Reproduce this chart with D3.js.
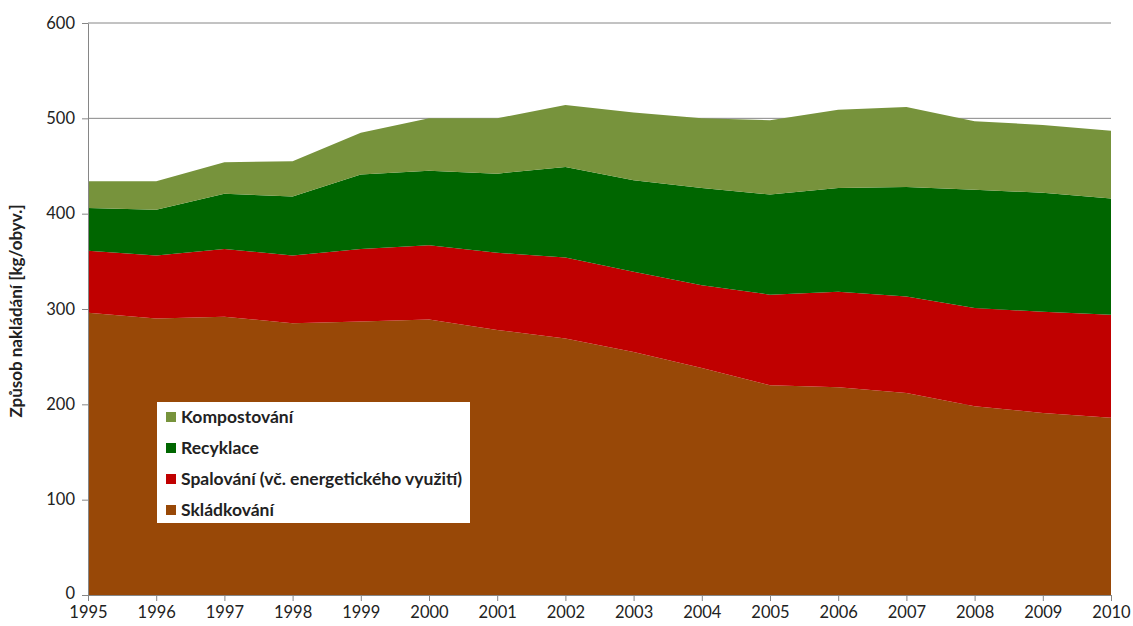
<!DOCTYPE html>
<html>
<head>
<meta charset="utf-8">
<script src="https://cdn.jsdelivr.net/npm/d3@7"></script>
<style>
  body { margin: 0; background: #fff; }
  text { font-family: Lato, "Open Sans", sans-serif; fill: #222; }
  .axis path, .axis line { stroke: #868686; }
  .grid line { stroke: #868686; }
</style>
</head>
<body>
<div id="chart"></div>
<script>
// data (kg per inhabitant)
const years = [1995, 1996, 1997, 1998, 1999, 2000, 2001, 2002, 2003, 2004, 2005, 2006, 2007, 2008, 2009, 2010];
const skladkovani = [296, 290, 292, 285, 287, 289, 278, 269, 255, 238, 220, 218, 212, 198, 191, 186];
const spalovani = [65, 66, 71, 71, 76, 78, 81, 85, 84, 87, 95, 100, 101, 103, 106, 108];
const recyklace = [45, 48, 58, 62, 78, 78, 83, 95, 96, 102, 105, 109, 115, 124, 125, 122];
const kompostovani = [28, 30, 33, 37, 44, 55, 58, 65, 71, 73, 78, 82, 84, 72, 71, 71];
const yTicks = [0, 100, 200, 300, 400, 500, 600];

const seriesNames = ['Skládkování', 'Spalování (vč. energetického využití)', 'Recyklace', 'Kompostování'];
const keys = ['skl', 'spa', 'rec', 'kom'];
const colors = { skl: '#984807', spa: '#c00000', rec: '#006600', kom: '#77933c' };

let width = 1133;
let height = 626;

let svg = d3.select('#chart')
    .append('svg')
    .attr('width', width)
    .attr('height', height);

let plotMargins = { top: 23, bottom: 31, left: 88, right: 22 };
let plotWidth = width - plotMargins.left - plotMargins.right;
let plotHeight = height - plotMargins.top - plotMargins.bottom;

let plotGroup = svg.append('g')
    .attr('transform', `translate(${plotMargins.left},${plotMargins.top})`);

let xScale = d3.scaleLinear()
    .domain([1995, 2010])
    .range([0, plotWidth]);
let yScale = d3.scaleLinear()
    .domain([0, 600])
    .range([plotHeight, 0]);

// horizontal gridlines
plotGroup.append('g')
    .classed('grid', true)
    .selectAll('line')
    .data(yTicks.filter(d => d > 0))
    .enter()
    .append('line')
    .attr('x1', 0)
    .attr('x2', plotWidth)
    .attr('y1', d => yScale(d))
    .attr('y2', d => yScale(d));

let table = years.map((y, i) => ({
    year: y,
    skl: skladkovani[i],
    spa: spalovani[i],
    rec: recyklace[i],
    kom: kompostovani[i]
}));

let stacked = d3.stack().keys(keys)(table);

let area = d3.area()
    .x(d => xScale(d.data.year))
    .y0(d => yScale(d[0]))
    .y1(d => yScale(d[1]));

plotGroup.selectAll('.series')
    .data(stacked)
    .enter()
    .append('path')
    .classed('series', true)
    .attr('fill', d => colors[d.key])
    .attr('d', area);

// axes
let yAxis = d3.axisLeft(yScale)
    .tickValues(yTicks)
    .tickSize(6)
    .tickPadding(7)
    .tickSizeOuter(0);
let yAxisGroup = plotGroup.append('g')
    .classed('axis', true)
    .call(yAxis);
// lift the "0" a little so it clears the year labels
yAxisGroup.selectAll('.tick text').filter(d => d === 0).attr('dy', '0.2em');

let xAxis = d3.axisBottom(xScale)
    .tickValues(years)
    .tickFormat(d3.format('d'))
    .tickSize(6)
    .tickPadding(5)
    .tickSizeOuter(0);
plotGroup.append('g')
    .classed('axis', true)
    .attr('transform', `translate(0,${plotHeight})`)
    .call(xAxis);

svg.selectAll('.axis text')
    .style('font-size', '16.5px')
    .style('fill', '#222');

// y axis title
svg.append('text')
    .attr('transform', `translate(22,${plotMargins.top + plotHeight / 2 + 2}) rotate(-90)`)
    .attr('text-anchor', 'middle')
    .style('font-size', '17px')
    .style('font-weight', 'bold')
    .text('Způsob nakládání [kg/obyv.]');

// legend
let legend = svg.append('g')
    .attr('transform', 'translate(157,402)');
legend.append('rect')
    .attr('width', 313)
    .attr('height', 121)
    .attr('fill', '#fff');

let legendOrder = [3, 2, 1, 0];
let items = legend.selectAll('.item')
    .data(legendOrder)
    .enter()
    .append('g')
    .classed('item', true)
    .attr('transform', (d, i) => `translate(9,${15 + i * 31})`);
items.append('rect')
    .attr('y', -5)
    .attr('width', 10)
    .attr('height', 10)
    .attr('fill', d => colors[keys[d]]);
items.append('text')
    .attr('x', 15)
    .attr('dy', '0.35em')
    .style('font-size', '17.5px')
    .style('font-weight', 'bold')
    .text(d => seriesNames[d]);
</script>
</body>
</html>
